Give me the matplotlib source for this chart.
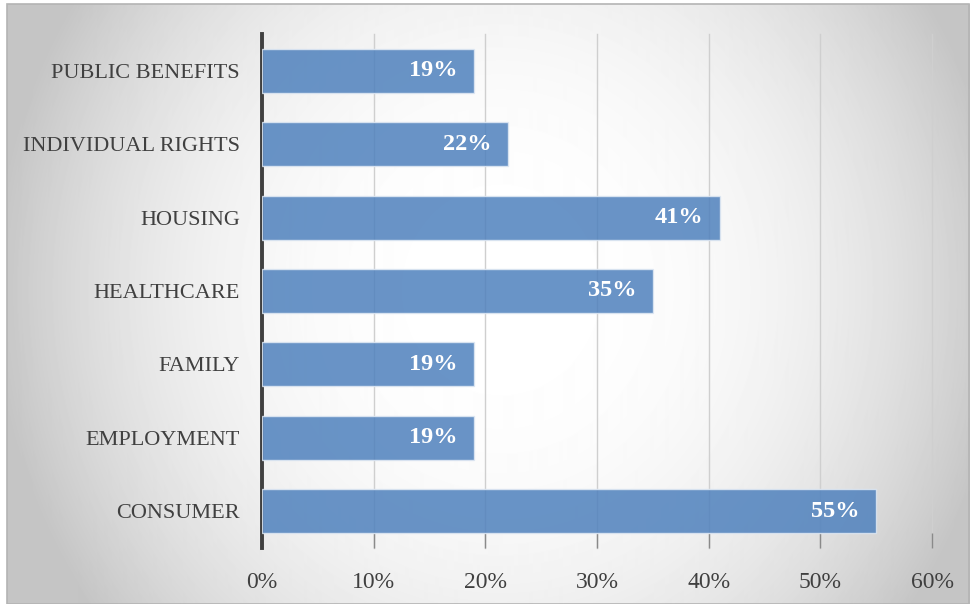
import matplotlib.pyplot as plt
import numpy as np
from matplotlib.patches import Rectangle

categories = ["CONSUMER", "EMPLOYMENT", "FAMILY", "HEALTHCARE",
              "HOUSING", "INDIVIDUAL RIGHTS", "PUBLIC BENEFITS"]
shares = [55, 19, 19, 35, 41, 22, 19]
ticks = [0, 10, 20, 30, 40, 50, 60]
tick_labels = [f"{t}%" for t in ticks]

plt.rcParams['font.family'] = ['Liberation Serif', 'DejaVu Serif']

W, H = 972, 604
fig = plt.figure(figsize=(W / 100, H / 100), dpi=100)

# shaded chart panel (light centre, grey edges)
bx0, by0, bx1, by1 = 7, 4, 969, 604
bg = fig.add_axes([bx0 / W, 0, (bx1 - bx0) / W, (by1 - by0) / H])
yy, xx = np.mgrid[by0:by1, bx0:bx1]
r = np.sqrt(((xx - 500.0) / 490.0) ** 2 + ((yy - 290.0) / 520.0) ** 2)
shade = np.clip(1 - 0.21 * r ** 2.5, 0.77, 1)
bg.imshow(shade, cmap='gray', vmin=0, vmax=1, aspect='auto', interpolation='bilinear')
bg.axis('off')
fig.patches.append(Rectangle((bx0 / W, 0), (bx1 - bx0) / W, (by1 - by0) / H,
                             transform=fig.transFigure, fill=False,
                             edgecolor='#b4b4b4', linewidth=1.2))

ax = fig.add_axes([262 / W, 1 - 548 / H, (932 - 262) / W, (548 - 34) / H])
ax.patch.set_alpha(0)

ax.barh(categories, shares, height=0.6, color='#4F81BD', alpha=0.85,
        edgecolor='#dfe8f3', linewidth=1, zorder=3)

for i, v in enumerate(shares):
    ax.annotate(f"{v}%", (v, i), xytext=(-12, 0), textcoords='offset points',
                ha='right', va='center', color='white', fontweight='bold',
                fontsize=17.5, zorder=4)

ax.set_xlim(0, 60)
ax.set_ylim(-0.5, 6.5)
ax.set_xticks(ticks)
ax.set_xticklabels(tick_labels)
ax.set_axisbelow(True)
ax.xaxis.grid(True, color='#cfcfcf', linewidth=1)
for line in ax.get_xgridlines():
    line.set_clip_on(False)

for s in ['top', 'right', 'bottom']:
    ax.spines[s].set_visible(False)
ax.spines['left'].set_color('#404040')
ax.spines['left'].set_linewidth(2.8)

ax.tick_params(axis='x', direction='in', length=11, width=1, color='#8a8a8a',
               labelsize=17, labelcolor='#404040', pad=17)
ax.tick_params(axis='y', length=0, labelsize=16, labelcolor='#404040', pad=16)

fig.savefig('out.png', dpi=100)
